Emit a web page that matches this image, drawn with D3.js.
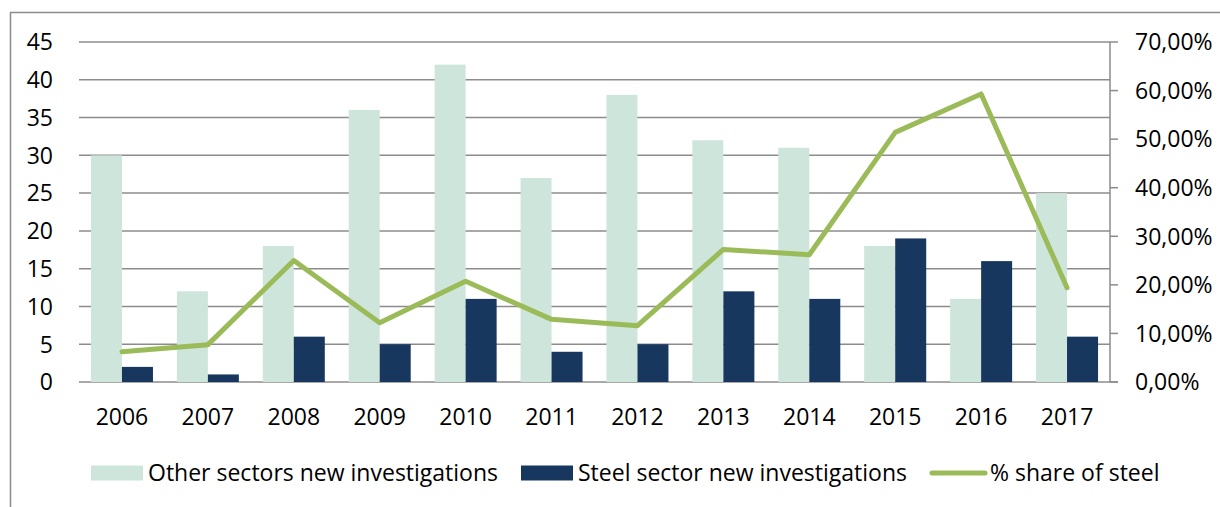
<!DOCTYPE html>
<html>
<head>
<meta charset="utf-8">
<script src="https://cdn.jsdelivr.net/npm/d3@7"></script>
<style>
  body { margin: 0; background: #fff; }
  svg text { font-family: "Open Sans", Lato, sans-serif; fill: #000; }
</style>
</head>
<body>
<div id="chart"></div>
<script>
const years = ["2006", "2007", "2008", "2009", "2010", "2011", "2012", "2013", "2014", "2015", "2016", "2017"];
const otherSectors = [30, 12, 18, 36, 42, 27, 38, 32, 31, 18, 11, 25];
const steelSector = [2, 1, 6, 5, 11, 4, 5, 12, 11, 19, 16, 6];
const steelShare = [6.25, 7.69, 25.0, 12.2, 20.75, 12.9, 11.6, 27.3, 26.2, 51.4, 59.3, 19.4];
const leftTicks = [0, 5, 10, 15, 20, 25, 30, 35, 40, 45];
const rightTicks = [0, 10, 20, 30, 40, 50, 60, 70];

const W = 1220, H = 507;
const margin = { top: 42, right: 110, bottom: 125, left: 79 };
const fontSize = 23;

const svg = d3.select("#chart").append("svg")
    .attr("width", W)
    .attr("height", H);

// outer frame (only top and left edges visible)
svg.append("path")
    .attr("d", `M10.5,${H} V12.5 H${W}`)
    .attr("fill", "none")
    .attr("stroke", "#8c8c8c")
    .attr("stroke-width", 1.5);

const x0 = margin.left, x1 = W - margin.right;
const y0 = H - margin.bottom, y1 = margin.top;

const x = d3.scaleBand().domain(years).range([x0, x1]);
const yLeft = d3.scaleLinear().domain([0, 45]).range([y0, y1]);
const yRight = d3.scaleLinear().domain([0, 70]).range([y0, y1]);

const barW = 31;

// gridlines
svg.append("g")
    .selectAll("line")
    .data(leftTicks)
    .join("line")
    .attr("x1", x0)
    .attr("x2", d => d === 0 ? x1 + 8 : x1)
    .attr("y1", d => yLeft(d))
    .attr("y2", d => yLeft(d))
    .attr("stroke", "#8c8c8c")
    .attr("stroke-width", 1.5);

// left tick labels
svg.append("g")
    .selectAll("text")
    .data(leftTicks)
    .join("text")
    .attr("x", 53)
    .attr("y", d => yLeft(d))
    .attr("dy", "0.36em")
    .attr("text-anchor", "end")
    .attr("font-size", fontSize)
    .text(d => d);

// bars
const groups = svg.append("g")
    .selectAll("g")
    .data(years)
    .join("g")
    .attr("transform", d => `translate(${x(d) + x.bandwidth() / 2},0)`);

groups.append("rect")
    .attr("x", -barW)
    .attr("width", barW)
    .attr("y", (d, i) => yLeft(otherSectors[i]))
    .attr("height", (d, i) => y0 - yLeft(otherSectors[i]))
    .attr("fill", "#cde5da");

groups.append("rect")
    .attr("x", 0)
    .attr("width", barW)
    .attr("y", (d, i) => yLeft(steelSector[i]))
    .attr("height", (d, i) => y0 - yLeft(steelSector[i]))
    .attr("fill", "#17375e");

// right axis
const rightAxis = svg.append("g");
rightAxis.append("line")
    .attr("x1", x1).attr("x2", x1)
    .attr("y1", y1).attr("y2", y0)
    .attr("stroke", "#8c8c8c")
    .attr("stroke-width", 1.5);
rightAxis.selectAll(".tick")
    .data(rightTicks)
    .join("line")
    .attr("x1", x1).attr("x2", x1 + 8)
    .attr("y1", d => yRight(d)).attr("y2", d => yRight(d))
    .attr("stroke", "#8c8c8c")
    .attr("stroke-width", 1.5);
rightAxis.selectAll("text")
    .data(rightTicks)
    .join("text")
    .attr("x", 1135)
    .attr("y", d => yRight(d))
    .attr("dy", "0.36em")
    .attr("font-size", fontSize)
    .text(d => d3.format(".2f")(d).replace(".", ",") + "%");

// x labels
svg.append("g")
    .selectAll("text")
    .data(years)
    .join("text")
    .attr("x", d => x(d) + x.bandwidth() / 2)
    .attr("y", 417)
    .attr("dy", "0.36em")
    .attr("text-anchor", "middle")
    .attr("font-size", fontSize)
    .text(d => d);

// share line
const line = d3.line()
    .x((d, i) => x(years[i]) + x.bandwidth() / 2)
    .y(d => yRight(d));

svg.append("path")
    .datum(steelShare)
    .attr("d", line)
    .attr("fill", "none")
    .attr("stroke", "#9bbb59")
    .attr("stroke-width", 5)
    .attr("stroke-linejoin", "round")
    .attr("stroke-linecap", "round");

// legend
const legendY = 473;
const legend = svg.append("g");
legend.append("rect")
    .attr("x", 91).attr("y", legendY - 7.5)
    .attr("width", 52).attr("height", 15)
    .attr("fill", "#cde5da");
legend.append("text")
    .attr("x", 148).attr("y", legendY).attr("dy", "0.36em")
    .attr("font-size", fontSize)
    .text("Other sectors new investigations");
legend.append("rect")
    .attr("x", 521).attr("y", legendY - 7.5)
    .attr("width", 52).attr("height", 15)
    .attr("fill", "#17375e");
legend.append("text")
    .attr("x", 578).attr("y", legendY).attr("dy", "0.36em")
    .attr("font-size", fontSize)
    .text("Steel sector new investigations");
legend.append("line")
    .attr("x1", 932).attr("x2", 985)
    .attr("y1", legendY).attr("y2", legendY)
    .attr("stroke", "#9bbb59")
    .attr("stroke-width", 5)
    .attr("stroke-linecap", "round");
legend.append("text")
    .attr("x", 990).attr("y", legendY).attr("dy", "0.36em")
    .attr("font-size", fontSize)
    .text("% share of steel");
</script>
</body>
</html>
